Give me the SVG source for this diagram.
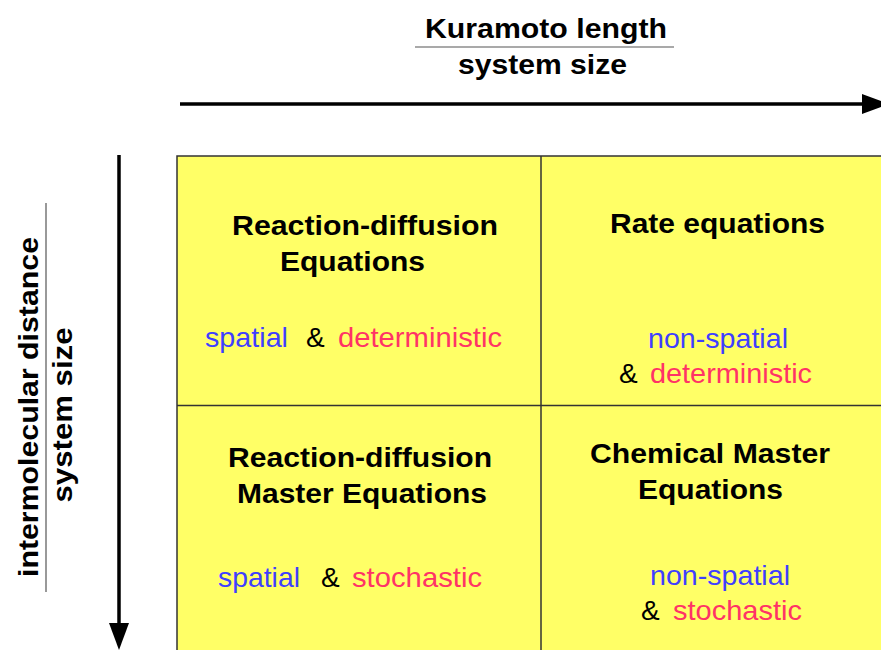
<svg xmlns="http://www.w3.org/2000/svg" width="881" height="650" viewBox="0 0 881 650">
<style>
text{font-family:"Liberation Sans",Arial,sans-serif;}
.b{font-weight:bold;font-size:28px;fill:#000;}
.r{font-size:28px;}
.blue{fill:#3f3fff;}
.red{fill:#ff3366;}
.amp{fill:#000;}
.frac{stroke:#555;stroke-width:1.2;}
.grid{fill:none;stroke:#333;stroke-width:1.5;}
.arrow{stroke:#000;stroke-width:3.5;fill:none;}
</style>
<defs>
<marker id="head" markerUnits="userSpaceOnUse" markerWidth="27" markerHeight="20" refX="0" refY="10" orient="auto" viewBox="0 0 27 20">
<path d="M0,0 L27,10 L0,20 z" fill="#000"/>
</marker>
</defs>
<rect x="0" y="0" width="881" height="650" fill="#fff"/>
<g id="grid">
<rect x="177" y="156" width="720" height="510" fill="#ffff66" stroke="#333" stroke-width="1.5"/>
<line class="grid" x1="541" y1="156" x2="541" y2="650"/>
<line class="grid" x1="177" y1="405.5" x2="881" y2="405.5"/>
</g>
<g id="connectors">
<line class="arrow" x1="180" y1="104" x2="862" y2="104" marker-end="url(#head)"/>
<line class="arrow" x1="119" y1="155" x2="119" y2="623" marker-end="url(#head)"/>
</g>
<g id="x-axis-label">
<text class="b" x="425" y="38" textLength="242" lengthAdjust="spacingAndGlyphs">Kuramoto length</text>
<line class="frac" x1="415" y1="47" x2="674" y2="47"/>
<text class="b" x="458" y="74" textLength="169" lengthAdjust="spacingAndGlyphs">system size</text>
</g>
<g id="y-axis-label">
<text class="b" transform="translate(38,407) rotate(-90)" x="0" y="0" text-anchor="middle" textLength="340" lengthAdjust="spacingAndGlyphs">intermolecular distance</text>
<line class="frac" x1="46" y1="203" x2="46" y2="592"/>
<text class="b" transform="translate(72,415) rotate(-90)" x="0" y="0" text-anchor="middle" textLength="175" lengthAdjust="spacingAndGlyphs">system size</text>
</g>
<g id="cell-rd-equations">
<text class="b" x="232" y="235" textLength="266" lengthAdjust="spacingAndGlyphs">Reaction-diffusion</text>
<text class="b" x="280" y="271" textLength="145" lengthAdjust="spacingAndGlyphs">Equations</text>
<text class="r blue" x="205" y="347" textLength="83" lengthAdjust="spacingAndGlyphs">spatial</text>
<text class="r amp" x="306" y="347">&amp;</text>
<text class="r red" x="338" y="347" textLength="164" lengthAdjust="spacingAndGlyphs">deterministic</text>
</g>
<g id="cell-rate-equations">
<text class="b" x="610" y="233" textLength="215" lengthAdjust="spacingAndGlyphs">Rate equations</text>
<text class="r blue" x="648" y="348" textLength="140" lengthAdjust="spacingAndGlyphs">non-spatial</text>
<text class="r amp" x="619" y="383">&amp;</text>
<text class="r red" x="650" y="383" textLength="162" lengthAdjust="spacingAndGlyphs">deterministic</text>
</g>
<g id="cell-rd-master">
<text class="b" x="228" y="467" textLength="264" lengthAdjust="spacingAndGlyphs">Reaction-diffusion</text>
<text class="b" x="237" y="503" textLength="250" lengthAdjust="spacingAndGlyphs">Master Equations</text>
<text class="r blue" x="218" y="587" textLength="82" lengthAdjust="spacingAndGlyphs">spatial</text>
<text class="r amp" x="321" y="587">&amp;</text>
<text class="r red" x="352" y="587" textLength="130" lengthAdjust="spacingAndGlyphs">stochastic</text>
</g>
<g id="cell-chemical-master">
<text class="b" x="590" y="463" textLength="240" lengthAdjust="spacingAndGlyphs">Chemical Master</text>
<text class="b" x="638" y="499" textLength="145" lengthAdjust="spacingAndGlyphs">Equations</text>
<text class="r blue" x="650" y="585" textLength="140" lengthAdjust="spacingAndGlyphs">non-spatial</text>
<text class="r amp" x="641" y="620">&amp;</text>
<text class="r red" x="673" y="620" textLength="129" lengthAdjust="spacingAndGlyphs">stochastic</text>
</g>
</svg>
